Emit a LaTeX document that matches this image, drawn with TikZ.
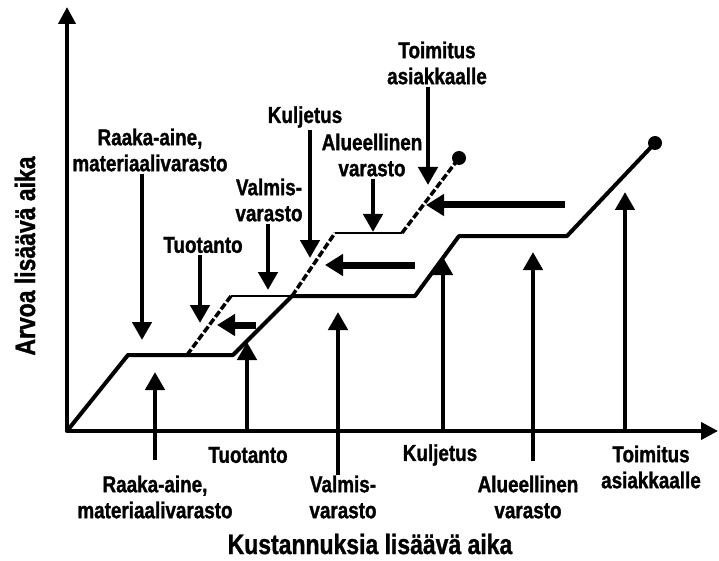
\documentclass[tikz,border=0pt]{standalone}
\usepackage{fontspec}
\setmainfont{Liberation Sans}[FakeStretch=0.82,BoldFeatures={FakeBold=1.2}]
\usetikzlibrary{arrows.meta,calc}
\begin{document}
\begin{tikzpicture}[x=1pt,y=-1pt,
  axisline/.style={line width=4pt,-{Triangle[length=17pt,width=17pt]}},
  lowpath/.style={line width=4pt,line join=round,line cap=round},
  highpath/.style={line width=2.2pt},
  jumpseg/.style={line width=3.5pt,dash pattern=on 7pt off 2.5pt},
  callout/.style={line width=4.5pt,-{Triangle[length=18pt,width=19pt]}},
  flowarrow/.style={line width=7pt,-{Triangle[length=18pt,width=21pt]}},
  lbl/.style={font=\bfseries\fontsize{23}{26}\selectfont,align=center,inner sep=2pt},
  axislbl/.style={font=\bfseries\fontsize{28}{31}\selectfont,inner sep=0pt},
  enddot/.style={circle,fill=black,inner sep=0pt,minimum size=14pt}]
\useasboundingbox (0,0) rectangle (719,561);

% axes
\coordinate (O) at (67,431);
\coordinate (ytop) at (67,7);
\coordinate (xend) at (718,431);
\draw[axisline] (O) -- (ytop);
\draw[axisline] (O) -- (xend);

% lower path: costs accumulating over time
\coordinate (l1) at (128,355);
\coordinate (l2) at (233,355);
\coordinate (l3) at (292,296);
\coordinate (l4) at (415,296);
\coordinate (l5) at (459,236);
\coordinate (l6) at (567,236);
\node[enddot] (lend) at (655,143) {};
\draw[lowpath] (O) -- (l1) -- (l2) -- (l3) -- (l4) -- (l5) -- (l6) -- (lend.center);

% upper path: value-adding jumps
\coordinate (u1) at (187,355);
\coordinate (u2) at (231,296);
\coordinate (u3) at (292,296);
\coordinate (u4) at (335,233);
\coordinate (u5) at (402,233);
\node[enddot] (uend) at (459,158) {};
\draw[jumpseg] (u1) -- (u2);
\draw[highpath] (u2) -- (u3);
\draw[jumpseg] (u3) -- (u4);
\draw[highpath] (u4) -- (u5);
\draw[jumpseg] (u5) -- (uend.center);

% shortening arrows
\coordinate (f1s) at (256,325); \coordinate (f1e) at (217,325);
\coordinate (f2s) at (415,265); \coordinate (f2e) at (325,265);
\coordinate (f3s) at (565,205); \coordinate (f3e) at (426,205);
\draw[flowarrow] (f1s) -- (f1e);
\draw[flowarrow] (f2s) -- (f2e);
\draw[flowarrow] (f3s) -- (f3e);

% labels above the paths
\node[lbl] (tA) at (150,150) {Raaka-aine,\\materiaalivarasto};
\node[lbl] (tB) at (203,245) {Tuotanto};
\node[lbl] (tC) at (269,200) {Valmis-\\varasto};
\node[lbl] (tD) at (305,117) {Kuljetus};
\node[lbl] (tE) at (372,155) {Alueellinen\\varasto};
\node[lbl] (tF) at (437,63) {Toimitus\\asiakkaalle};

\coordinate (pA) at (142,340);
\coordinate (pB) at (200,323);
\coordinate (pC) at (268,290);
\coordinate (pD) at (310,258);
\coordinate (pE) at (373,232);
\coordinate (pF) at (428,185);
\draw[callout] (tA.south -| pA) -- (pA);
\draw[callout] (tB.south -| pB) -- (pB);
\draw[callout] (tC.south -| pC) -- (pC);
\draw[callout] (tD.south -| pD) -- (pD);
\draw[callout] (tE.south -| pE) -- (pE);
\draw[callout] (tF.south -| pF) -- (pF);

% labels below the axis
\node[lbl] (bA) at (155,497) {Raaka-aine,\\materiaalivarasto};
\node[lbl] (bB) at (248,455) {Tuotanto};
\node[lbl] (bC) at (343,497) {Valmis-\\varasto};
\node[lbl] (bD) at (440,455) {Kuljetus};
\node[lbl] (bE) at (528,497) {Alueellinen\\varasto};
\node[lbl] (bF) at (651,467) {Toimitus\\asiakkaalle};

\coordinate (qA) at (155,372);
\coordinate (qB) at (247,342);
\coordinate (qC) at (338,312);
\coordinate (qD) at (443,257);
\coordinate (qE) at (533,252);
\coordinate (qF) at (625,192);
\draw[callout] ($(bA.north -| qA)+(0,-13)$) -- (qA);
\draw[callout] (O -| qB) -- (qB);
\draw[callout] ($(bC.north -| qC)+(0,2)$) -- (qC);
\draw[callout] (O -| qD) -- (qD);
\draw[callout] ($(bE.north -| qE)+(0,-12)$) -- (qE);
\draw[callout] (O -| qF) -- (qF);

% axis titles
\node[axislbl,rotate=90] (ylab) at (25,256) {Arvoa lisäävä aika};
\node[axislbl] (xlab) at (370,544) {Kustannuksia lisäävä aika};
\end{tikzpicture}
\end{document}
